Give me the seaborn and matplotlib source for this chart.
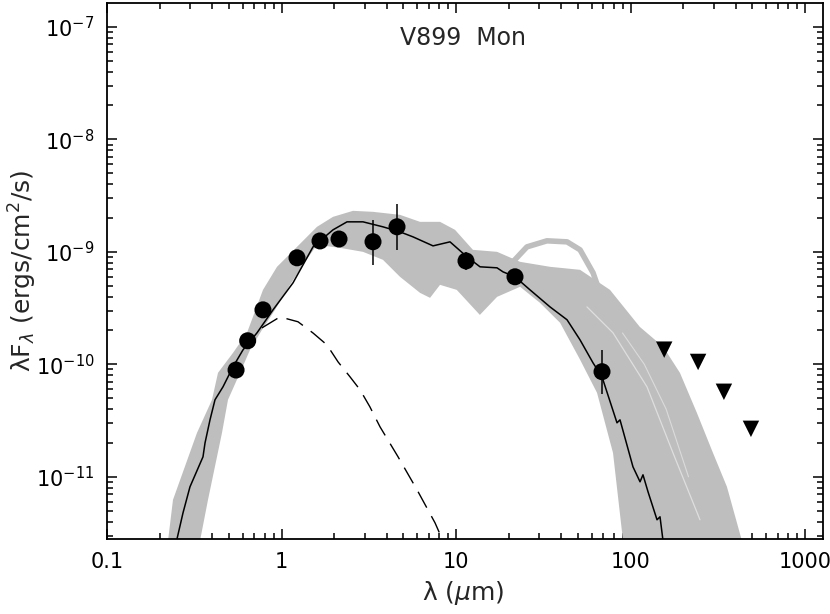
import matplotlib
matplotlib.use("Agg")
import numpy as np
import pandas as pd
import matplotlib.pyplot as plt
import matplotlib.ticker as mticker
import seaborn as sns

# photometry (wavelength in micron, lambda F_lambda in erg/cm2/s)
phot_wl = [0.549, 0.640, 0.783, 1.227, 1.662, 2.136, 3.345, 4.591, 11.41,
           21.78, 68.66]
phot_flux = [8.9e-11, 1.62e-10, 3.05e-10, 8.85e-10, 1.25e-9, 1.30e-9,
             1.23e-9, 1.67e-9, 8.3e-10, 6.0e-10, 8.6e-11]

# error bars on a few of the points
err_wl = [3.345, 4.591, 11.41, 68.66]
err_lo = [7.66e-10, 1.04e-9, 6.9e-10, 5.4e-11]
err_hi = [1.92e-9, 2.67e-9, 9.9e-10, 1.35e-10]

# upper limits (far-IR / submm)
lim_wl = [156.0, 244.0, 343.0, 490.0]
lim_flux = [1.35e-10, 1.05e-10, 5.7e-11, 2.67e-11]

# envelope of the grey model fan
band_up_wl = [0.2237, 0.2389, 0.3279, 0.3997, 0.4326, 0.5274, 0.6343, 0.7834,
              0.9424, 1.227, 1.597, 1.973, 2.569, 3.345, 4.775, 6.22, 8.10,
              9.87, 12.5, 17.2, 23.3, 34.6, 51.4, 76.3, 113.0, 154.0, 192.0,
              240.0, 297.0, 357.0, 435.0]
band_up_flux = [2.7e-12, 6.25e-12, 2.46e-11, 4.84e-11, 8.4e-11, 1.265e-10,
                1.905e-10, 4.59e-10, 7.36e-10, 1.107e-9, 1.668e-9, 2.047e-9,
                2.315e-9, 2.268e-9, 2.133e-9, 1.848e-9, 1.848e-9, 1.569e-9,
                1.042e-9, 1.0e-9, 8.15e-10, 7.36e-10, 6.92e-10, 4.59e-10,
                2.154e-10, 1.43e-10, 8.4e-11, 3.71e-11, 1.63e-11, 8.15e-12,
                2.7e-12]
band_lo_wl = [0.3412, 0.3792, 0.456, 0.4936, 0.5783, 0.660, 0.7733, 0.9178,
              1.119, 1.364, 1.597, 2.164, 2.931, 3.816, 4.775, 6.22, 7.10,
              8.10, 10.1, 13.7, 17.2, 23.3, 30.3, 39.5, 51.4, 64.3, 79.4, 90.6]
band_lo_flux = [2.7e-12, 6.25e-12, 2.46e-11, 4.84e-11, 8.4e-11, 1.345e-10,
                2.03e-10, 3.05e-10, 5.09e-10, 8.15e-10, 1.154e-9, 1.085e-9,
                1.0e-9, 8.49e-10, 6.0e-10, 4.32e-10, 3.9e-10, 5.09e-10,
                4.59e-10, 2.75e-10, 3.98e-10, 4.89e-10, 3.52e-10, 2.34e-10,
                1.10e-10, 5.58e-11, 1.63e-11, 2.7e-12]

# one outlying model with a far-IR hump
hump_wl = [21.2, 25.5, 33.2, 43.3, 51.4, 61.0, 66.9, 73.3]
hump_flux = [8.15e-10, 1.107e-9, 1.253e-9, 1.227e-9, 1.042e-9, 6.51e-10,
             4.32e-10, 2.49e-10]

# gaps between the model curves inside the fan
gap_wl = [56.3, 79.4, 124.3, 175.2, 250.1]
gap_flux = [3.24e-10, 1.905e-10, 6.31e-11, 1.63e-11, 4.15e-12]
gap2_wl = [90.0, 120.0, 160.0, 215.0]
gap2_flux = [1.9e-10, 1.0e-10, 4.0e-11, 1.0e-11]

# best-fit model
fit_wl = [0.2518, 0.2727, 0.2989, 0.3549, 0.3645, 0.3893, 0.4158, 0.4621,
          0.5274, 0.6017, 0.7237, 0.894, 1.164, 1.5155, 1.973, 2.374, 2.931,
          3.816, 4.775, 5.669, 7.385, 9.239, 11.56, 13.73, 17.18, 18.59,
          21.78, 26.56, 34.57, 43.27, 51.36, 60.97, 68.66, 83.67, 87.07,
          103.3, 113.4, 117.9, 126.0, 141.9, 147.6, 153.6]
fit_flux = [2.8e-12, 4.79e-12, 8.15e-12, 1.506e-11, 2.0e-11, 3.21e-11,
            4.84e-11, 6.31e-11, 9.5e-11, 1.345e-10, 1.905e-10, 3.05e-10,
            5.3e-10, 1.107e-9, 1.569e-9, 1.848e-9, 1.848e-9, 1.668e-9,
            1.505e-9, 1.359e-9, 1.13e-9, 1.227e-9, 9.03e-10, 7.36e-10,
            7.21e-10, 6.64e-10, 6.0e-10, 4.59e-10, 3.24e-10, 2.49e-10,
            1.651e-10, 1.031e-10, 7.74e-11, 3.02e-11, 3.21e-11, 1.227e-11,
            9.03e-12, 1.042e-11, 7.36e-12, 4.15e-12, 4.41e-12, 2.7e-12]

# stellar photosphere
star_wl = [0.773, 0.98, 1.243, 1.515, 1.82, 2.11, 2.47, 2.82, 3.21, 3.67,
           4.65, 5.98, 7.58, 8.32]
star_flux = [2.11e-10, 2.64e-10, 2.39e-10, 1.9e-10, 1.49e-10, 1.05e-10,
             7.74e-11, 5.93e-11, 4.19e-11, 2.78e-11, 1.51e-11, 7.66e-12,
             3.9e-12, 2.81e-12]

x_ticks = [0.1, 1, 10, 100, 1000]
y_ticks = [1e-11, 1e-10, 1e-9, 1e-8, 1e-7]

sns.set_style("ticks")
plt.rcParams["font.family"] = ["DejaVu Sans"]
plt.rcParams["mathtext.fontset"] = "custom"
plt.rcParams["mathtext.rm"] = "DejaVu Sans"
plt.rcParams["mathtext.it"] = "DejaVu Sans:italic"

fig, ax = plt.subplots(figsize=(8.3, 6.14), dpi=100)
fig.subplots_adjust(left=107 / 830, right=823 / 830, top=1 - 3 / 614,
                    bottom=1 - 539 / 614)
ax.set_xscale("log")
ax.set_yscale("log")

grey = "#bebebe"
ax.fill(band_up_wl + band_lo_wl[::-1], band_up_flux + band_lo_flux[::-1],
        color=grey, lw=0, zorder=1)
sns.lineplot(x=hump_wl, y=hump_flux, color=grey, lw=4, sort=False,
             estimator=None, ax=ax, zorder=1)
sns.lineplot(x=gap_wl, y=gap_flux, color="white", lw=0.9, alpha=0.5,
             sort=False, estimator=None, ax=ax, zorder=2)
sns.lineplot(x=gap2_wl, y=gap2_flux, color="white", lw=0.8, alpha=0.45,
             sort=False, estimator=None, ax=ax, zorder=2)

sns.lineplot(x=fit_wl, y=fit_flux, color="black", lw=1.1, sort=False,
             estimator=None, ax=ax, zorder=3)
sns.lineplot(x=star_wl, y=star_flux, color="black", lw=1.0, sort=False,
             estimator=None, ax=ax, zorder=3)
ax.lines[-1].set_dashes((13, 7))

ax.vlines(err_wl, err_lo, err_hi, color="black", lw=1.1, zorder=4)
sns.scatterplot(x=phot_wl, y=phot_flux, color="black", s=150,
                edgecolor="none", ax=ax, zorder=5)
sns.scatterplot(x=lim_wl, y=lim_flux, color="black", marker="v", s=140,
                edgecolor="none", ax=ax, zorder=5)

ax.set_xlim(0.1, 1268)
ax.set_ylim(2.8e-12, 1.63e-7)

ax.xaxis.set_major_locator(mticker.FixedLocator(x_ticks))
ax.xaxis.set_major_formatter(mticker.FuncFormatter(lambda v, _: f"{v:g}"))
ax.xaxis.set_minor_locator(mticker.LogLocator(base=10, subs=np.arange(2, 10)))
ax.xaxis.set_minor_formatter(mticker.NullFormatter())
ax.yaxis.set_major_locator(mticker.FixedLocator(y_ticks))
ax.yaxis.set_major_formatter(mticker.LogFormatterSciNotation())
ax.yaxis.set_minor_locator(mticker.LogLocator(base=10, subs=np.arange(2, 10), numticks=20))
ax.yaxis.set_minor_formatter(mticker.NullFormatter())

ax.tick_params(which="both", direction="in", top=True, right=True,
               width=1.1, labelsize=15, colors="black")
ax.tick_params(which="major", length=7.5, pad=9)
ax.tick_params(which="minor", length=4)
for sp in ax.spines.values():
    sp.set_linewidth(1.3)
    sp.set_color("black")

ax.set_xlabel(r"λ ($\mu$m)", fontsize=18)
ax.xaxis.set_label_coords(0.497, -0.100)
ax.xaxis.label.set_va("center")
ax.set_ylabel(r"λF$_{λ}$ (ergs/cm$^{2}$/s)", fontsize=18)
ax.yaxis.set_label_coords(-0.117, 0.5)
ax.yaxis.label.set_va("center")
ax.text(0.497, 0.935, "V899  Mon", transform=ax.transAxes, ha="center",
        va="center", fontsize=17)

fig.savefig("out.png", dpi=100)
